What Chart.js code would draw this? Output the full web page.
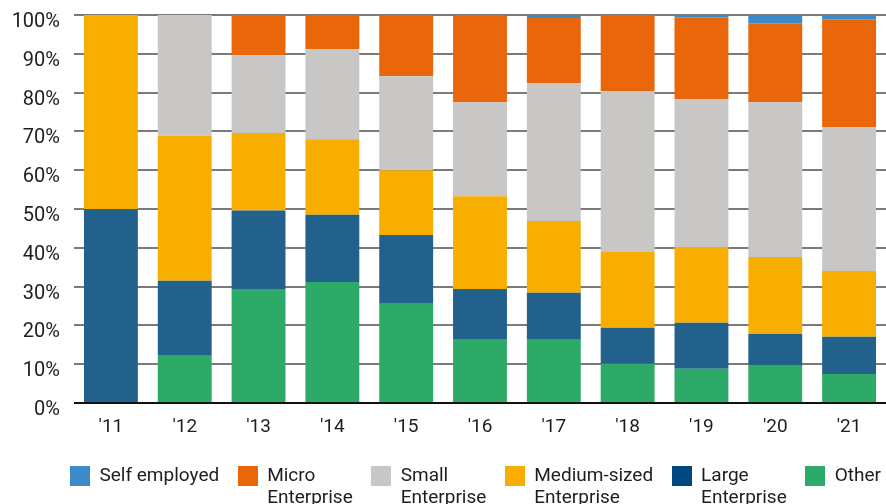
<!DOCTYPE html>
<html>
<head>
<meta charset="utf-8">
<script src="https://cdn.jsdelivr.net/npm/chart.js@4.4.1/dist/chart.umd.min.js"></script>
<style>
  html, body { margin: 0; padding: 0; background: #ffffff; }
  #wrap { width: 886px; height: 504px; position: relative; overflow: hidden; }
  #chart { position: absolute; left: 0; top: 0; }
  #legend {
    position: absolute; left: 70px; width: 811px; top: 464px;
    display: flex; justify-content: space-between; align-items: flex-start;
    font-family: Roboto, "Liberation Sans", sans-serif; font-size: 19px; line-height: 22px;
    color: #1e1e1e;
  }
  .item { display: flex; align-items: flex-start; }
  .key { width: 20px; height: 20px; margin-top: 2px; margin-right: 9.5px; flex: none; }
  .txt { white-space: nowrap; }
</style>
</head>
<body>
<div id="wrap"><canvas id="chart" width="886" height="504"></canvas><div id="legend"></div></div>
<script>
// Share of companies by size class per year (percent of total)
const years = ["'11", "'12", "'13", "'14", "'15", "'16", "'17", "'18", "'19", "'20", "'21"];

const other        = [0,    12.4, 29.2, 31.2, 25.6, 16.3, 16.3, 10.1, 8.8,  9.6,  7.5];
const large        = [50,   19.1, 20.4, 17.3, 17.7, 13.1, 12.1, 9.3,  11.9, 8.2,  9.6];
const mediumSized  = [50,   37.4, 20.0, 19.5, 16.7, 23.9, 18.5, 19.5, 19.5, 19.8, 16.9];
const small        = [0,    31.1, 20.0, 23.2, 24.2, 24.2, 35.5, 41.5, 38.1, 39.9, 37.1];
const micro        = [0,    0,    10.4, 8.8,  15.8, 22.5, 16.8, 19.6, 21.1, 20.4, 27.8];
const selfEmployed = [0,    0,    0,    0,    0,    0,    0.8,  0,    0.6,  2.1,  1.1];

const yTicks = [0, 10, 20, 30, 40, 50, 60, 70, 80, 90, 100];

const FONT = 'Roboto, "Liberation Sans", sans-serif';
const TEXT = '#1e1e1e';

// stacked bottom -> top; the legend lists them top -> bottom
const series = [
  { label: ['Other'],                      data: other,        bar: '#2eaa68', key: '#2eaa68' },
  { label: ['Large', 'Enterprise'],        data: large,        bar: '#21618c', key: '#00467f' },
  { label: ['Medium-sized', 'Enterprise'], data: mediumSized,  bar: '#f7ae00', key: '#f7ae00' },
  { label: ['Small', 'Enterprise'],        data: small,        bar: '#c8c7c5', key: '#c8c7c5' },
  { label: ['Micro', 'Enterprise'],        data: micro,        bar: '#ea660b', key: '#ea660b' },
  { label: ['Self employed'],              data: selfEmployed, bar: '#3b8bcb', key: '#3b8bcb' }
];

const noPad = s => { s.paddingTop = 0; s.paddingBottom = 0; s.paddingLeft = 0; s.paddingRight = 0; };

const chart = new Chart(document.getElementById('chart'), {
  type: 'bar',
  data: {
    labels: years,
    datasets: series.map(s => ({
      label: s.label.join(' '),
      data: s.data,
      backgroundColor: s.bar,
      borderWidth: 0,
      barPercentage: 0.73,
      categoryPercentage: 1.0
    }))
  },
  options: {
    responsive: false,
    animation: false,
    layout: { padding: { top: 15, right: 0, bottom: 61, left: 0 } },
    scales: {
      x: {
        stacked: true,
        grid: { display: false, drawTicks: false },
        border: { display: false },
        ticks: { color: TEXT, font: { family: FONT, size: 19 }, padding: 13, maxRotation: 0 },
        afterFit: s => { s.height = 40; noPad(s); }
      },
      y: {
        stacked: true,
        min: 0,
        max: 100,
        afterBuildTicks: s => { s.ticks = yTicks.map(v => ({ value: v })); },
        grid: {
          drawTicks: false,
          color: c => (c.tick && c.tick.value === 0) ? '#111111' : '#7a7a7a',
          lineWidth: 2
        },
        border: { display: false },
        ticks: {
          color: TEXT,
          font: { family: FONT, size: 20 },
          padding: 14,
          labelOffset: 7,
          callback: v => v + '%'
        },
        afterFit: s => { s.width = 74; noPad(s); }
      }
    },
    plugins: {
      tooltip: { enabled: false },
      legend: { display: false }
    }
  }
});

// legend, listed from the top of the stack downwards
const legend = document.getElementById('legend');
chart.data.datasets.map((d, i) => i).reverse().forEach(i => {
  const item = document.createElement('div');
  item.className = 'item';
  const key = document.createElement('span');
  key.className = 'key';
  key.style.background = series[i].key;
  const txt = document.createElement('span');
  txt.className = 'txt';
  txt.innerHTML = series[i].label.join('<br>');
  item.appendChild(key);
  item.appendChild(txt);
  legend.appendChild(item);
});
</script>
</body>
</html>
